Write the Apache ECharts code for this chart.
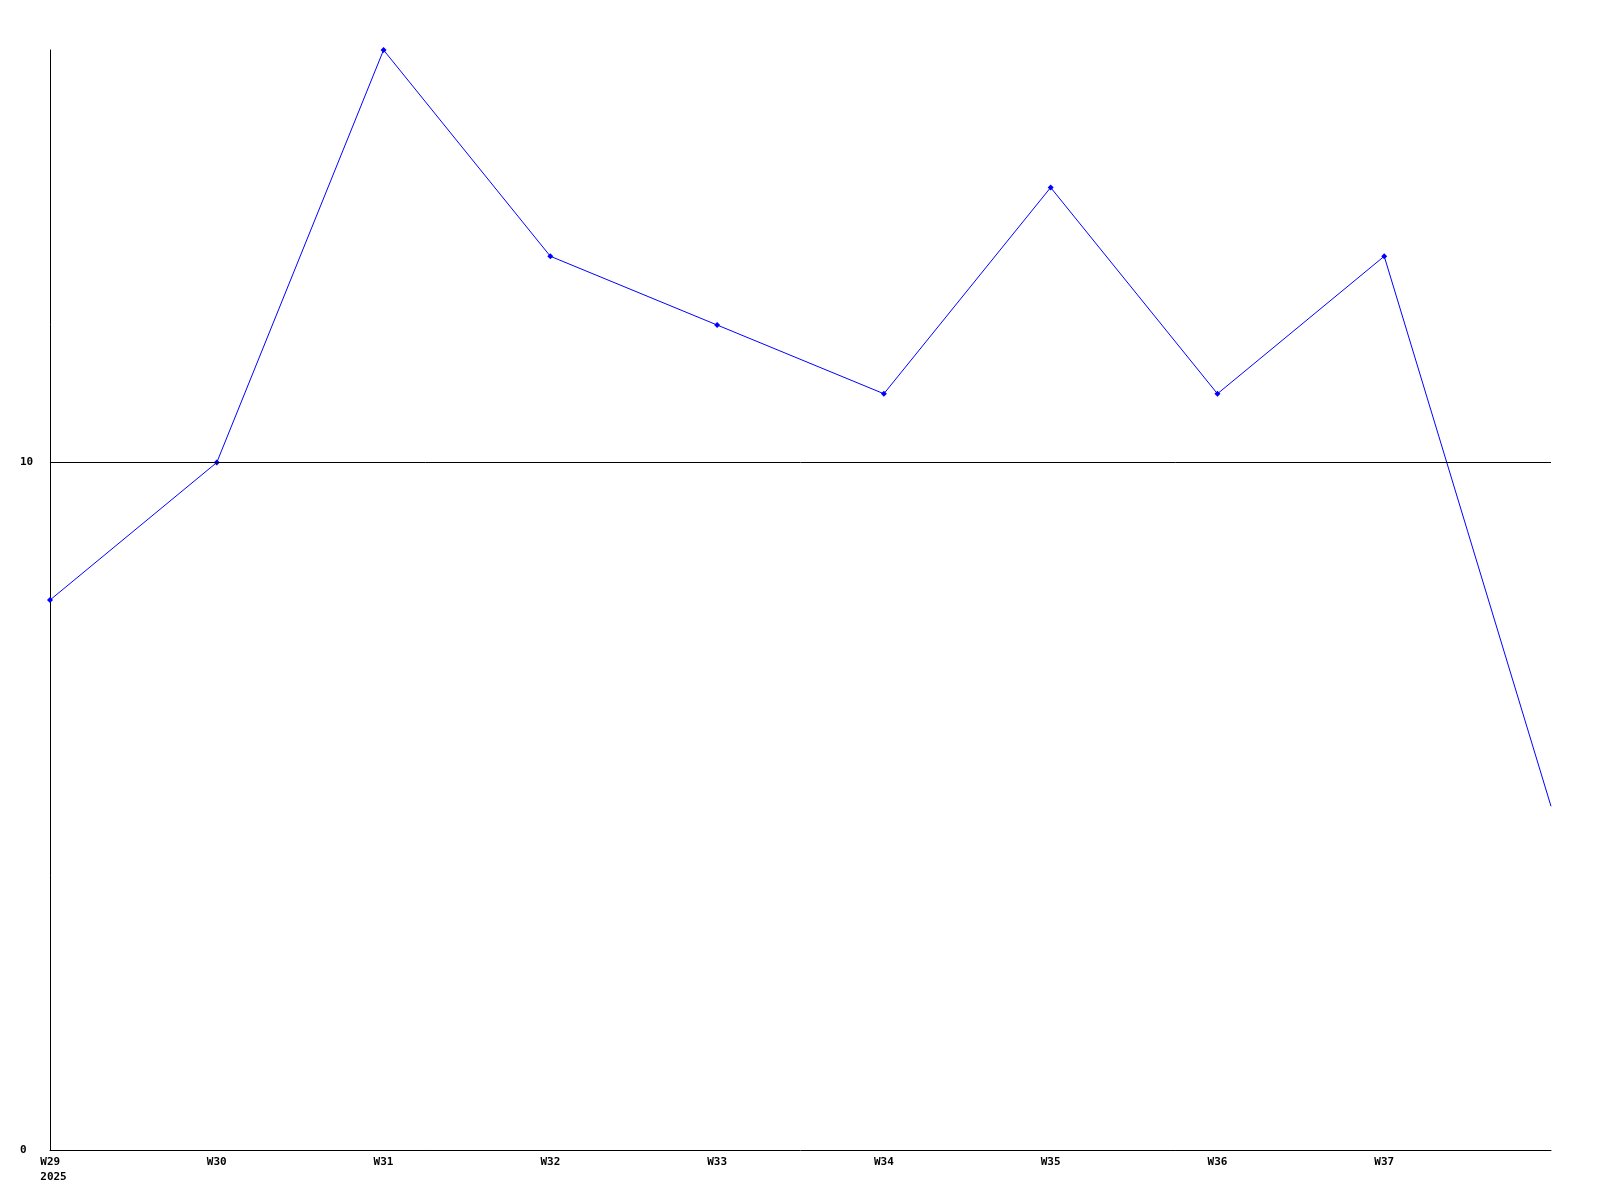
<!DOCTYPE html>
<html><head><meta charset="utf-8">
<style>html,body{margin:0;padding:0;background:#fff}#c{width:1600px;height:1200px}</style>
<script src="https://cdn.jsdelivr.net/npm/echarts@6/dist/echarts.min.js"></script>
</head><body><div id="c"></div>
<script>
const categories = ['W29','W30','W31','W32','W33','W34','W35','W36','W37','W38'];
const values = [8, 10, 16, 13, 12, 11, 14, 11, 13, 5];
const yearLabel = '2025';
const yTickLabels = [0, 10];
const refLineValue = 10;

const chart = echarts.init(document.getElementById('c'), null, {renderer:'canvas'});
const font = {fontFamily:'DejaVu Sans Mono', fontWeight:'bold', fontSize:11, color:'#000'};
chart.setOption({
  animation:false,
  backgroundColor:'#fff',
  grid:{left:50, right:49, top:50, bottom:50, containLabel:false},
  xAxis:{
    type:'category', data:categories, boundaryGap:false,
    axisLine:{lineStyle:{color:'#000', width:1}},
    axisTick:{show:false},
    splitLine:{show:false},
    axisLabel:Object.assign({}, font, {
      margin:5, lineHeight:15, interval:0,
      formatter:(v,i)=> i===0 ? '{f|'+v+'}\n{f|'+yearLabel+'}' : (i===categories.length-1 ? '' : v),
      rich:{f:Object.assign({}, font, {align:'left', lineHeight:15, padding:[0,0,0,7]})}
    })
  },
  yAxis:{
    type:'value', min:0, max:16, interval:10,
    axisLine:{show:true, lineStyle:{color:'#000', width:1}},
    axisTick:{show:false},
    splitLine:{show:false},
    axisLabel:Object.assign({}, font, {
      align:'left', margin:30, showMaxLabel:false,
      formatter:v=> yTickLabels.indexOf(v)>=0 ? String(v) : ''
    })
  },
  series:[{
    type:'line', data:values.map((v,i)=> i===values.length-1 ? {value:v, symbol:'none'} : v),
    symbol:'diamond', symbolSize:6, showAllSymbol:true,
    lineStyle:{color:'#0000ff', width:1},
    itemStyle:{color:'#0000ff'},
    clip:true,
    markLine:{
      silent:true, symbol:['none','none'], label:{show:false},
      lineStyle:{color:'#000', width:1, type:'solid'},
      data:[{yAxis:refLineValue}]
    }
  }]
});
</script></body></html>
